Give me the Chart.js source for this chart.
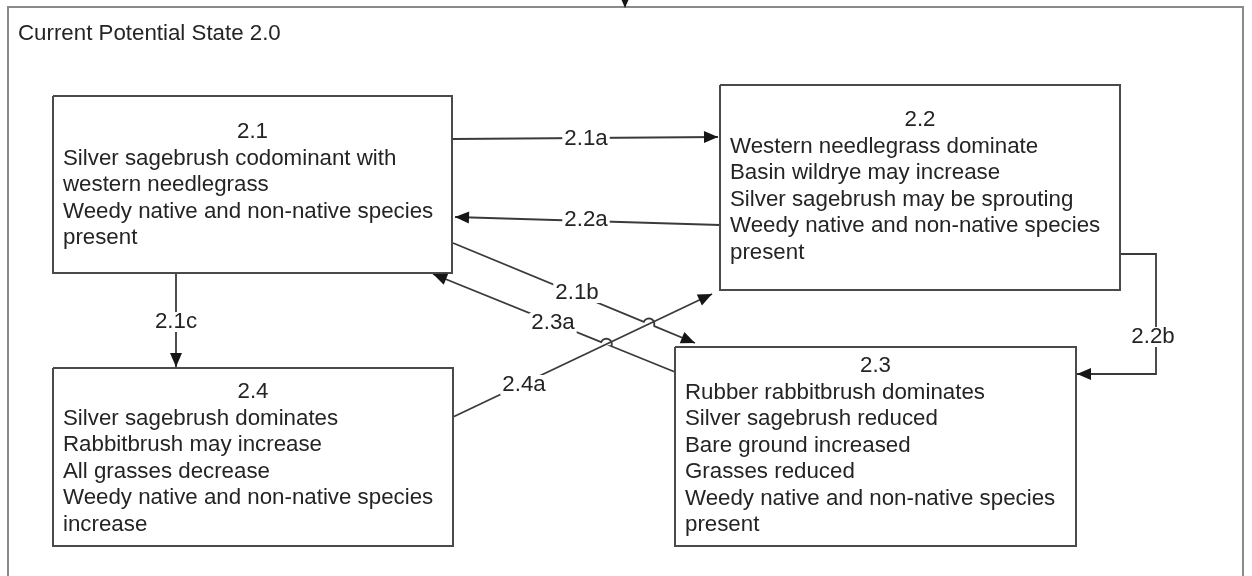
<!DOCTYPE html>
<html>
<head>
<meta charset="utf-8">
<script src="https://cdn.jsdelivr.net/npm/chart.js@4/dist/chart.umd.min.js"></script>
<style>
  html, body { margin: 0; padding: 0; background: #ffffff; }
  #wrap { width: 1252px; height: 576px; position: relative; }
</style>
</head>
<body>
<div id="wrap"><canvas id="c" width="1252" height="576"></canvas></div>
<script>
// ---------- data ----------
const frameTitle = 'Current Potential State 2.0';
const stateIds = ['2.1', '2.2', '2.3', '2.4'];
const stateTexts = [
  ['Silver sagebrush codominant with', 'western needlegrass', 'Weedy native and non-native species', 'present'],
  ['Western needlegrass dominate', 'Basin wildrye may increase', 'Silver sagebrush may be sprouting', 'Weedy native and non-native species', 'present'],
  ['Rubber rabbitbrush dominates', 'Silver sagebrush reduced', 'Bare ground increased', 'Grasses reduced', 'Weedy native and non-native species', 'present'],
  ['Silver sagebrush dominates', 'Rabbitbrush may increase', 'All grasses decrease', 'Weedy native and non-native species', 'increase']
];
const transitionIds = ['2.1a', '2.2a', '2.1b', '2.3a', '2.4a', '2.1c', '2.2b', ''];

// ---------- layout (diagram coordinates, px-like units) ----------
const stateBoxes = [ // [left, top, right, bottom]
  [53, 96, 452, 273],
  [720, 85, 1120, 290],
  [675, 347, 1076, 546],
  [53, 368, 453, 546]
];
const stateTitleY = [132, 120, 366, 392];
const transitionPaths = [
  [[453, 139], [718, 137]],
  [[720, 225], [455, 217]],
  [[453, 243], [695, 343]],
  [[675, 372], [433, 274]],
  [[453, 417], [712, 294]],
  [[176, 273], [176, 367]],
  [[1120, 254], [1156, 254], [1156, 374], [1077, 374]],
  [[625, -6], [625, 8]]
];
const transitionLabelAt = [[586, 139], [586, 220], [577, 293], [553, 323], [524, 385], [176, 322], [1153, 337], null];
const hopOver = { 2: 4, 3: 4 }; // path index -> path it hops over
const framePath = [[8, 590], [8, 7], [1243, 7], [1243, 590]];

// ---------- helpers ----------
const FONT = '22.3px "Liberation Sans", Arial, sans-serif';
const TEXT_COLOR = '#242424';
const LINE_H = 26.5;

function intersect(a, b, c, d) {
  const r = [b[0] - a[0], b[1] - a[1]], s = [d[0] - c[0], d[1] - c[1]];
  const den = r[0] * s[1] - r[1] * s[0];
  if (Math.abs(den) < 1e-9) return null;
  const t = ((c[0] - a[0]) * s[1] - (c[1] - a[1]) * s[0]) / den;
  const u = ((c[0] - a[0]) * r[1] - (c[1] - a[1]) * r[0]) / den;
  if (t < 0 || t > 1 || u < 0 || u > 1) return null;
  return [a[0] + t * r[0], a[1] + t * r[1]];
}

function withHop(path, other) {
  const a = path[0], b = path[1];
  const c = intersect(a, b, other[0], other[1]);
  if (!c) return path;
  const len = Math.hypot(b[0] - a[0], b[1] - a[1]);
  const u = [(b[0] - a[0]) / len, (b[1] - a[1]) / len];
  let n = [-u[1], u[0]];
  if (n[1] > 0) n = [-n[0], -n[1]]; // bump upward
  const r = 5.5, pts = [a];
  for (let i = 0; i <= 10; i++) {
    const th = Math.PI - Math.PI * i / 10;
    pts.push([c[0] + u[0] * r * Math.cos(th) + n[0] * r * Math.sin(th),
              c[1] + u[1] * r * Math.cos(th) + n[1] * r * Math.sin(th)]);
  }
  pts.push(b);
  return pts;
}

const toXY = p => ({ x: p[0], y: p[1] });
const datasets = [];

datasets.push({
  data: framePath.map(toXY), showLine: true, borderColor: '#8a8a8a', borderWidth: 2,
  pointRadius: 0, fill: false, clip: false, tension: 0
});
stateBoxes.forEach(b => {
  datasets.push({
    data: [[b[0], b[1]], [b[2], b[1]], [b[2], b[3]], [b[0], b[3]], [b[0], b[1]]].map(toXY),
    showLine: true, borderColor: '#4a4a4a', borderWidth: 2, pointRadius: 0,
    fill: false, tension: 0, borderJoinStyle: 'miter'
  });
});
transitionPaths.forEach((p, i) => {
  const pts = hopOver[i] !== undefined ? withHop(p, transitionPaths[hopOver[i]]) : p;
  datasets.push({
    data: pts.map(toXY), showLine: true, borderColor: '#3a3a3a', borderWidth: 1.8,
    pointRadius: 0, fill: false, tension: 0, clip: false
  });
});

const diagramPlugin = {
  id: 'diagram',
  afterDatasetsDraw(chart) {
    const ctx = chart.ctx, xs = chart.scales.x, ys = chart.scales.y;
    const px = v => xs.getPixelForValue(v), py = v => ys.getPixelForValue(v);
    ctx.save();
    // arrowheads
    transitionPaths.forEach(p => {
      const tip = p[p.length - 1], prev = p[p.length - 2];
      const tx = px(tip[0]), ty = py(tip[1]);
      const dx = tx - px(prev[0]), dy = ty - py(prev[1]);
      const L = Math.hypot(dx, dy), ux = dx / L, uy = dy / L;
      const len = 14, hw = 6;
      ctx.beginPath();
      ctx.moveTo(tx, ty);
      ctx.lineTo(tx - ux * len - uy * hw, ty - uy * len + ux * hw);
      ctx.lineTo(tx - ux * len + uy * hw, ty - uy * len - ux * hw);
      ctx.closePath();
      ctx.fillStyle = '#161616';
      ctx.fill();
    });
    ctx.font = FONT;
    ctx.textBaseline = 'middle';
    // transition labels
    transitionIds.forEach((t, i) => {
      const at = transitionLabelAt[i];
      if (!t || !at) return;
      const w = ctx.measureText(t).width;
      const x = px(at[0]), y = py(at[1]);
      ctx.fillStyle = '#ffffff';
      ctx.fillRect(x - w / 2 - 2, y - 10, w + 4, 20);
      ctx.fillStyle = TEXT_COLOR;
      ctx.textAlign = 'center';
      ctx.fillText(t, x, y);
    });
    // frame title
    ctx.textAlign = 'left';
    ctx.fillStyle = TEXT_COLOR;
    ctx.fillText(frameTitle, px(18), py(34));
    // state texts
    stateIds.forEach((id, i) => {
      const b = stateBoxes[i];
      ctx.textAlign = 'center';
      ctx.fillText(id, px((b[0] + b[2]) / 2), py(stateTitleY[i]));
      ctx.textAlign = 'left';
      stateTexts[i].forEach((line, k) => {
        ctx.fillText(line, px(b[0] + 10), py(stateTitleY[i] + LINE_H * (k + 1)));
      });
    });
    ctx.restore();
  }
};

new Chart(document.getElementById('c'), {
  type: 'scatter',
  data: { datasets },
  options: {
    responsive: false,
    maintainAspectRatio: false,
    animation: false,
    events: [],
    layout: { padding: 0 },
    plugins: { legend: { display: false }, tooltip: { enabled: false } },
    scales: {
      x: { type: 'linear', min: 0, max: 1252, display: false },
      y: { type: 'linear', min: 0, max: 576, reverse: true, display: false }
    }
  },
  plugins: [diagramPlugin]
});
</script>
</body>
</html>
